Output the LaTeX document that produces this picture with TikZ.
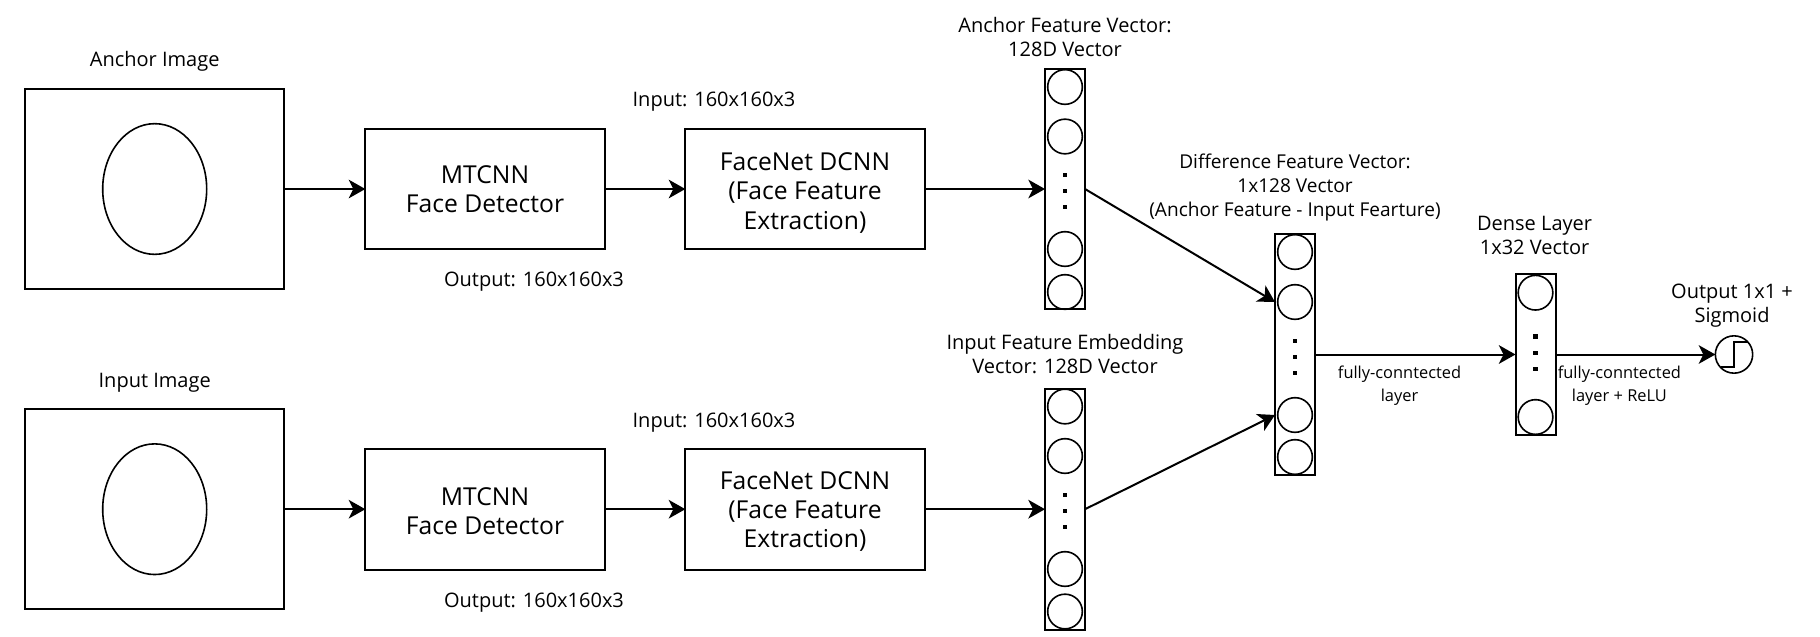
\documentclass[tikz,border=0pt]{standalone}
\usepackage{fontspec}
\setmainfont{Open Sans}
\usetikzlibrary{arrows.meta,shapes.geometric}
\tikzset{
  imgbox/.style={draw,line width=1.5pt,minimum width=194.5pt,minimum height=150pt,outer sep=0pt},
  netbox/.style={draw,line width=1.5pt,minimum width=179.5pt,minimum height=90.5pt,outer sep=0pt,align=center,
    font=\fontsize{18.5}{22}\selectfont},
  facecirc/.style={draw,ellipse,line width=1.2pt,minimum width=78pt,minimum height=98pt,inner sep=0pt},
  unit/.style={draw,circle,line width=1.2pt,minimum size=26pt,inner sep=0pt,outer sep=0pt},
  dotb/.style={fill=black,minimum size=3.2pt,inner sep=0pt,outer sep=0pt},
  bigvec/.style={draw,line width=1.5pt,minimum width=30pt,minimum height=180.5pt,inner sep=0pt,outer sep=0pt},
  lab/.style={align=center,inner sep=0pt,font=\fontsize{15}{18}\selectfont},
  smalllab/.style={align=center,inner sep=0pt,font=\fontsize{12.3}{17.25}\selectfont},
  conn/.style={line width=1.5pt,-{Stealth[length=12.5pt,width=14pt,inset=3.5pt]}}
}
\begin{document}
\begin{tikzpicture}[x=0.75pt,y=-0.75pt]
    \useasboundingbox (0,0) rectangle (1820,636);
    % top row
    \node[imgbox] (img1) at (154.7,189) {};
    \node[facecirc] (face1) at (154.7,189) {};
    \node[netbox] (det1) at (485,189) {MTCNN\\Face Detector};
    \node[netbox] (net1) at (805,189) {\rule{0pt}{19pt}FaceNet DCNN\\(Face Feature\\Extraction)};
    \node[lab] (limg1) at (154.7,61.5) {Anchor Image};
    \node[lab] (lin1) at (714,101.5) {Input: 160x160x3};
    \node[lab] (lout1) at (534,281.5) {Output: 160x160x3};
    % bottom row
    \node[imgbox] (img2) at (154.7,509.2) {};
    \node[facecirc] (face2) at (154.7,509.2) {};
    \node[netbox] (det2) at (485,509.2) {\rule{0pt}{16pt}MTCNN\\Face Detector};
    \node[netbox] (net2) at (805,509.2) {\rule{0pt}{17pt}FaceNet DCNN\\(Face Feature\\Extraction)};
    \node[lab] (limg2) at (154.7,383) {Input Image};
    \node[lab] (lin2) at (714,422.5) {Input: 160x160x3};
    \node[lab] (lout2) at (534,602.5) {Output: 160x160x3};
    % anchor vector
    \node[bigvec] (va) at (1065,189) {};
    \node[unit] (va1) at (1065,87) {};
    \node[unit] (va2) at (1065,136.5) {};
    \node[dotb] (va3) at (1065,175) {};
    \node[dotb] (va4) at (1065,191) {};
    \node[dotb] (va5) at (1065,207) {};
    \node[unit] (va6) at (1065,249) {};
    \node[unit] (va7) at (1065,292) {};
    \node[lab] (lva) at (1065,36.5) {Anchor Feature Vector:\\128D Vector};
    % input vector
    \node[bigvec] (vi) at (1065,509.2) {};
    \node[unit] (vi1) at (1065,406.5) {};
    \node[unit] (vi2) at (1065,456) {};
    \node[dotb] (vi3) at (1065,495) {};
    \node[dotb] (vi4) at (1065,511) {};
    \node[dotb] (vi5) at (1065,527) {};
    \node[unit] (vi6) at (1065,569) {};
    \node[unit] (vi7) at (1065,611.5) {};
    \node[lab] (lvi) at (1065,354.5) {Input Feature Embedding\\Vector: 128D Vector};
    % difference vector
    \node[bigvec] (vd) at (1295,354.5) {};
    \node[unit] (vd1) at (1295,252) {};
    \node[unit] (vd2) at (1295,302) {};
    \node[dotb] (vd3) at (1295,341) {};
    \node[dotb] (vd4) at (1295,357) {};
    \node[dotb] (vd5) at (1295,373) {};
    \node[unit] (vd6) at (1295,415) {};
    \node[unit] (vd7) at (1295,457) {};
    \node[lab,font=\fontsize{14.3}{18}\selectfont] (lvd) at (1295,187) {Difference Feature Vector:\\1x128 Vector\\(Anchor Feature - Input Fearture)};
    % dense layer
    \node[bigvec,minimum height=120.5pt] (vf) at (1535.5,354.5) {};
    \node[unit] (vf1) at (1535.5,292.7) {};
    \node[dotb] (vf2) at (1535.5,336.6) {};
    \node[dotb] (vf3) at (1535.5,353) {};
    \node[dotb] (vf4) at (1535.5,369) {};
    \node[unit] (vf5) at (1535.5,417) {};
    \node[lab] (lvf) at (1534.6,235) {Dense Layer\\1x32 Vector};
    % output
    \node[unit,minimum size=28pt] (sig) at (1734,354.5) {};
    \draw[line width=1.4pt] (1720.7,366.7) -- (1734.3,366.7) -- (1734.3,341.7) -- (1748,341.7);
    \node[lab] (lsig) at (1732,306) {Output 1x1 +\\Sigmoid};
    \node[smalllab] (lfc1) at (1399.5,385.5) {fully-conntected\\layer};
    \node[smalllab] (lfc2) at (1619.4,385.5) {fully-conntected\\layer + ReLU};
    % connectors
    \draw[conn] (img1) -- (det1);
    \draw[conn] (det1) -- (net1);
    \draw[conn] (net1) -- (va);
    \draw[conn] (img2) -- (det2);
    \draw[conn] (det2) -- (net2);
    \draw[conn] (net2) -- (vi);
    \draw[conn] (va.east) -- (vd2 -| vd.west);
    \draw[conn] (vi.east) -- (vd6 -| vd.west);
    \draw[conn] (vd) -- (vf);
    \draw[conn] (vf) -- (sig);
\end{tikzpicture}
\end{document}
